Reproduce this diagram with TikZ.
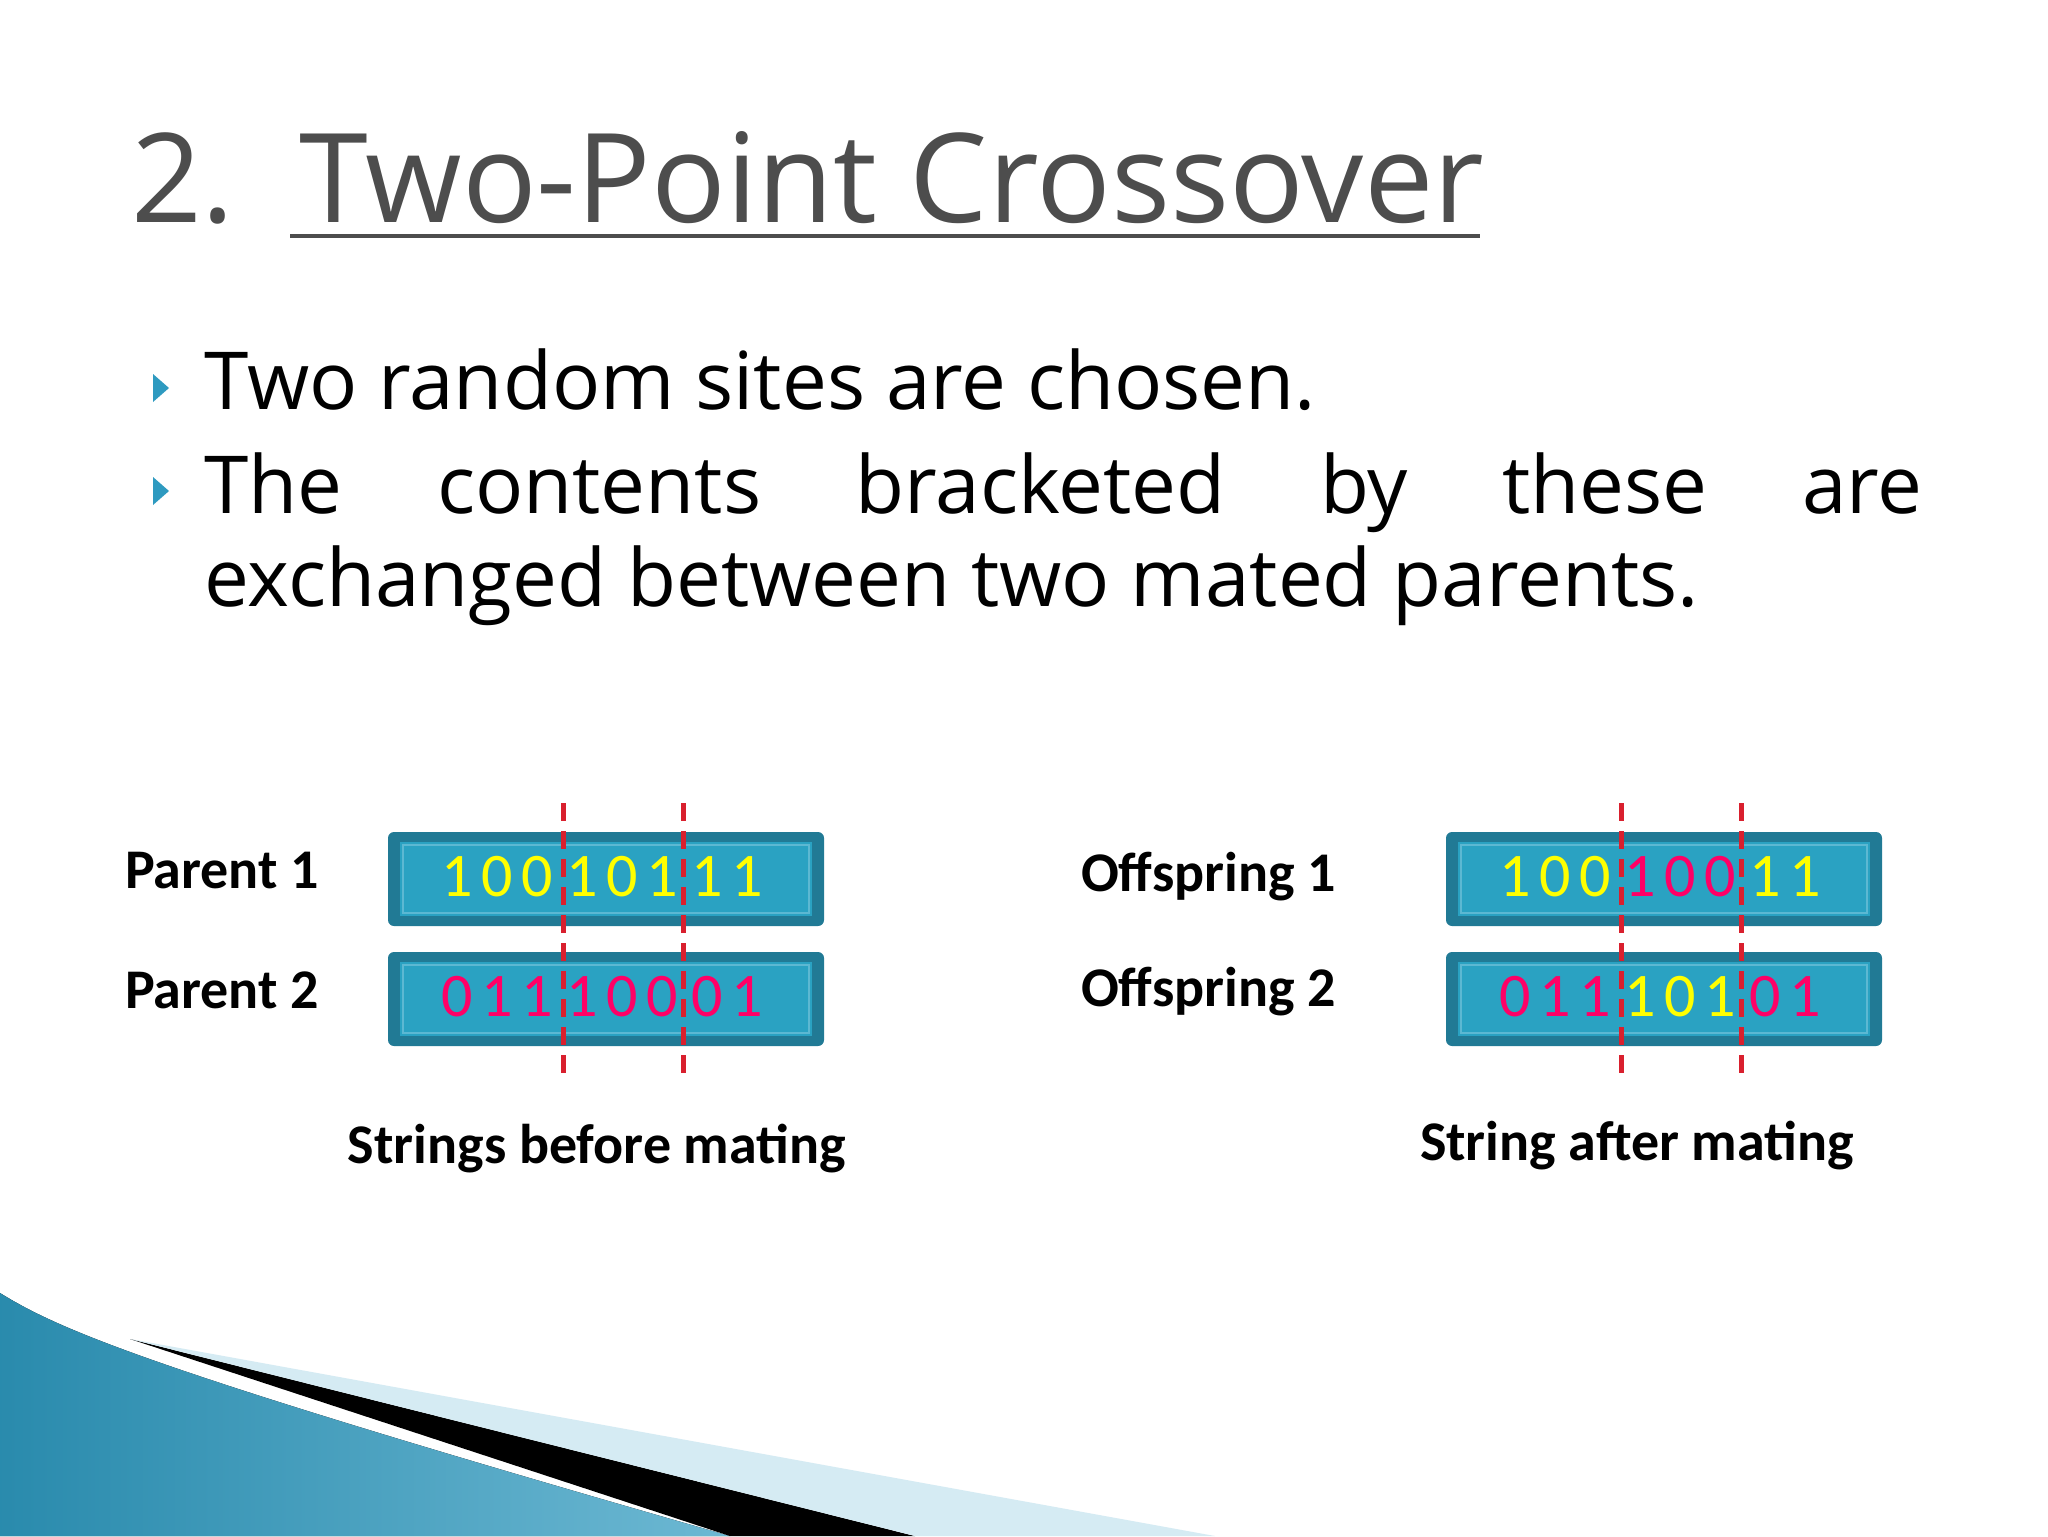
\documentclass[tikz,border=0pt]{standalone}
\usepackage{fontspec}
\setmainfont{Open Sans}
\newfontfamily\calfont{Carlito}
\begin{document}
\begin{tikzpicture}[x=0.5pt,y=-0.5pt,
  dig/.style={font=\fontsize{31}{35}\selectfont\calfont, anchor=base},
  lab/.style={font=\fontsize{28}{32}\selectfont\calfont\bfseries, anchor=base west},
  cut/.style={draw=cutred, line width=2.5pt, dash pattern=on 9pt off 5pt},
  bul/.style={font=\fontsize{40}{48}\selectfont, anchor=base west, text=black, inner sep=0pt}]
\definecolor{boxdark}{HTML}{217A95}
\definecolor{boxfill}{HTML}{2AA2C2}
\definecolor{boxline}{HTML}{5CB8D2}
\definecolor{cutred}{HTML}{D9202E}
\definecolor{yel}{HTML}{FFFF00}
\definecolor{pnk}{HTML}{FF0066}
\definecolor{tgray}{HTML}{4D4D4D}
\definecolor{bulc}{HTML}{2E9AC0}
\useasboundingbox (0,0) rectangle (2048,1536);
\fill[white] (0,0) rectangle (2048,1536);
% swoosh
\fill[left color=bulc!90!black, right color=bulc!70!white] (0,1293) .. controls (60,1330) and (150,1370) .. (730,1536) -- (0,1536) -- cycle;
\fill[black] (130,1339) -- (730,1536) -- (915,1536) -- cycle;
\fill[bulc!20!white] (130,1339) -- (915,1536) -- (1215,1536) -- cycle;
% title
\node[anchor=base west, text=tgray, font=\fontsize{62}{70}\selectfont, preaction={}] (title) at (124,222) {2.\ \ Two-Point Crossover};
\draw[tgray, line width=2pt] (290,236) -- (1480,236);
% bullets
\fill[bulc] (153,374) -- (169,388) -- (153,402) -- cycle;
\fill[bulc] (153,477) -- (169,491) -- (153,505) -- cycle;
\node[bul] (b1) at (204,409) {Two random sites are chosen.};
\node[bul] (b2) at (204,513) {\makebox[859pt][s]{The\hfill contents\hfill bracketed\hfill by\hfill these\hfill are}};
\node[bul] (b3) at (204,606) {exchanged between two mated parents.};
% boxes
\foreach \nm/\x/\y in {p1/388/832, p2/388/952, o1/1446/832, o2/1446/952}{
  \fill[boxdark, rounded corners=3pt] (\x,\y) rectangle ++(436,94);
  \fill[boxfill] (\x+12,\y+10) rectangle ++(412,74);
  \draw[boxline, line width=0.8pt] (\x+15,\y+13) rectangle ++(406,68);
  \coordinate (\nm) at (\x,\y);
}
\foreach \d/\c [count=\i from 0] in {1/yel,0/yel,0/yel,1/yel,0/yel,1/yel,1/yel,1/yel}{
  \node[dig,text=\c] at ({457+\i*40+(\i>2)*5+(\i>5)*5},896) {\d};}
\foreach \d/\c [count=\i from 0] in {0/pnk,1/pnk,1/pnk,1/pnk,0/pnk,0/pnk,0/pnk,1/pnk}{
  \node[dig,text=\c] at ({457+\i*40+(\i>2)*5+(\i>5)*5},1016) {\d};}
\foreach \d/\c [count=\i from 0] in {1/yel,0/yel,0/yel,1/pnk,0/pnk,0/pnk,1/yel,1/yel}{
  \node[dig,text=\c] at ({1515+\i*40+(\i>2)*5+(\i>5)*5},896) {\d};}
\foreach \d/\c [count=\i from 0] in {0/pnk,1/pnk,1/pnk,1/yel,0/yel,1/yel,0/pnk,1/pnk}{
  \node[dig,text=\c] at ({1515+\i*40+(\i>2)*5+(\i>5)*5},1016) {\d};}
% cut lines
\foreach \x in {563,683,1621,1741}{\draw[cut] (\x,803) -- (\x,1074);}
% labels
\node[lab] (lp1) at (118,888) {Parent 1};
\node[lab] (lp2) at (118,1008) {Parent 2};
\node[lab] (lo1) at (1074,891) {Offspring 1};
\node[lab] (lo2) at (1074,1006) {Offspring 2};
\node[lab, anchor=base] (cap1) at (597,1163) {Strings before mating};
\node[lab, anchor=base] (cap2) at (1637,1160) {String after mating};
\end{tikzpicture}
\end{document}
